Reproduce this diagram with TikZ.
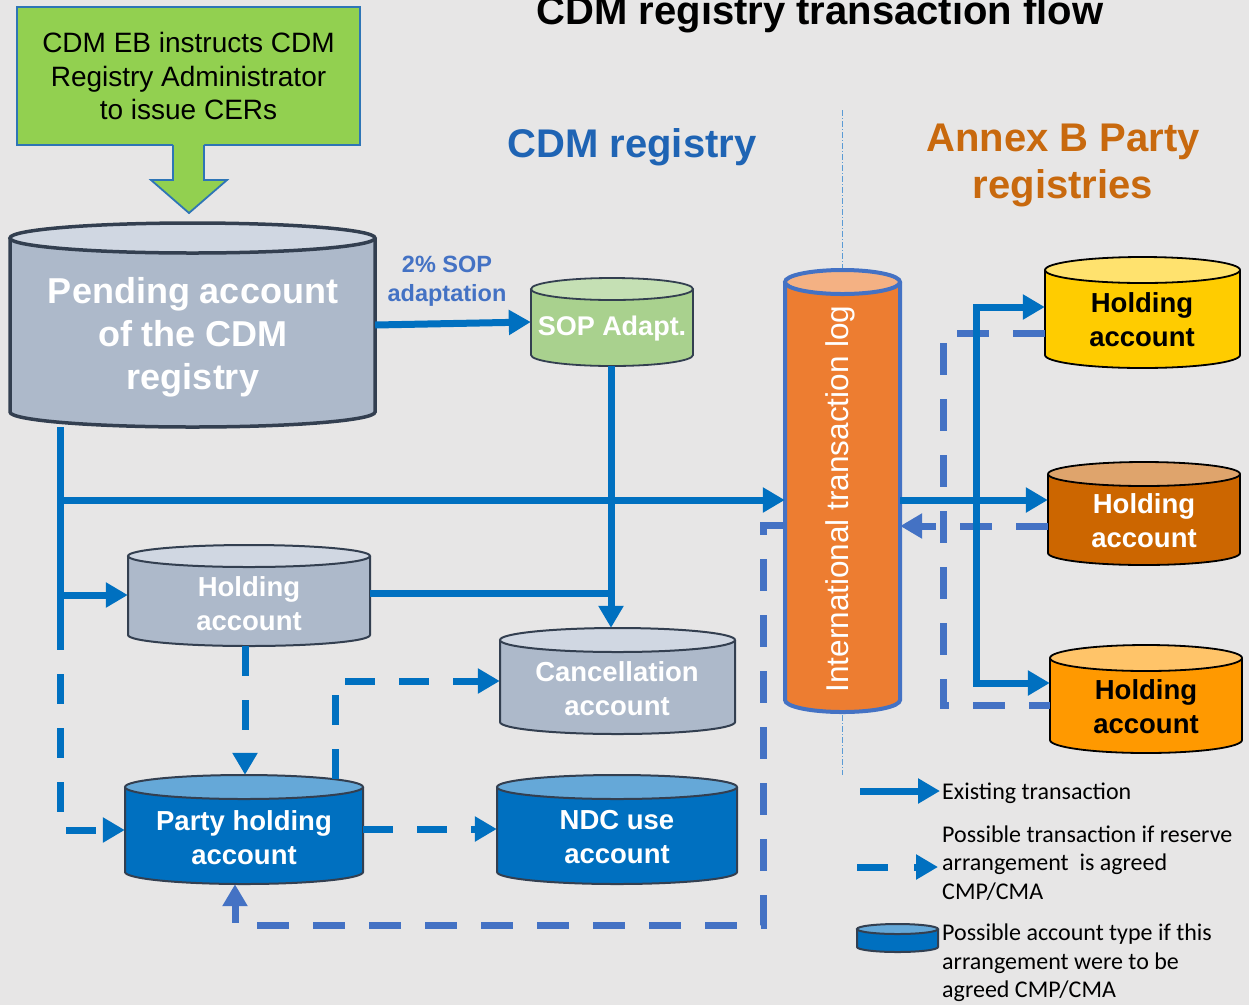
\documentclass[tikz,border=0pt]{standalone}
\usepackage{fontspec}
\setmainfont{Liberation Sans}
\newfontfamily\legfont{Carlito}
\usetikzlibrary{arrows.meta,calc}
\definecolor{bg}{HTML}{E7E6E6}
\definecolor{ebgreen}{HTML}{92D050}
\definecolor{ebborder}{HTML}{2E75B6}
\definecolor{cblue}{HTML}{0070C0}
\definecolor{lblue}{HTML}{4472C4}
\definecolor{greybody}{HTML}{ADB9CA}
\definecolor{greytop}{HTML}{D0D7E2}
\definecolor{darkb}{HTML}{333F50}
\definecolor{sopbody}{HTML}{A9D18E}
\definecolor{soptop}{HTML}{C5E0B4}
\definecolor{partytop}{HTML}{65A8D8}
\definecolor{itlbody}{HTML}{ED7D31}
\definecolor{itltop}{HTML}{F4B183}
\definecolor{yelbody}{HTML}{FFCC00}
\definecolor{yeltop}{HTML}{FFE26E}
\definecolor{brnbody}{HTML}{CC6600}
\definecolor{brntop}{HTML}{DFA46C}
\definecolor{orgbody}{HTML}{FF9900}
\definecolor{orgtop}{HTML}{FFC469}
\definecolor{regblue}{HTML}{1F64B4}
\definecolor{annexor}{HTML}{C8690E}
\definecolor{divblue}{HTML}{5B9BD5}

% name, xl, xr, ytop, ybot, ry, body, top, border options
\newcommand{\mycyl}[9]{%
  \pgfmathsetmacro\cylcx{(#2+#3)/2}%
  \pgfmathsetmacro\cylrx{(#3-#2)/2}%
  \pgfmathsetmacro\cylcy{(#4+#5)/2}%
  \pgfmathsetmacro\cylh{#5-#4+2*#6}%
  \pgfmathsetmacro\cylw{#3-#2}%
  \fill[#7] (#2,#4) -- (#2,#5) arc[start angle=180,end angle=360,x radius=\cylrx pt,y radius=#6pt] -- (#3,#4) -- cycle;
  \draw[#9] (#2,#4) -- (#2,#5) arc[start angle=180,end angle=360,x radius=\cylrx pt,y radius=#6pt] -- (#3,#4);
  \filldraw[fill=#8,#9] (\cylcx,#4) ellipse[x radius=\cylrx pt,y radius=#6pt];
  \node[inner sep=0pt,minimum width=\cylw pt,minimum height=\cylh pt] (#1) at (\cylcx,\cylcy) {};
}

\tikzset{
  conn/.style={draw=cblue,line width=7pt},
  tipA/.style={-{Triangle[length=22pt,width=24pt]}},
  dconn/.style={draw=cblue,line width=7pt,dash pattern=on 30pt off 24pt},
  dconnL/.style={draw=lblue,line width=7pt,dash pattern=on 32pt off 24pt},
  cyltxt/.style={font=\bfseries\fontsize{27.5}{34}\selectfont,text=white,align=center,inner sep=0pt},
  legtxt/.style={font=\legfont\fontsize{24}{28.5}\selectfont,align=left,anchor=west,inner sep=0pt},
  bd/.style={draw=darkb,line width=2pt},
  bk/.style={draw=black,line width=1.8pt},
}

\begin{document}
\begin{tikzpicture}[x=1pt,y=-1pt]
\fill[bg] (0,0) rectangle (1249,1005);
\useasboundingbox (0,0) rectangle (1249,1005);

% titles
\node[font=\bfseries\fontsize{40}{46}\selectfont,anchor=base] (title) at (820,24) {CDM registry transaction flow};
\node[font=\bfseries\fontsize{40}{47}\selectfont,text=regblue,anchor=base] (reg) at (632,157) {CDM registry};
\node[font=\bfseries\fontsize{40}{47}\selectfont,text=annexor,align=center] (annex) at (1063,165) {Annex B Party\\registries};

% divider
\draw[divblue,line width=1pt,dash pattern=on 6pt off 2pt on 1pt off 2pt] (842,110) -- (842,775);

% EB box and block arrow
\node[draw=ebborder,fill=ebgreen,line width=1.8pt,minimum width=343pt,minimum height=138pt,inner sep=0pt,
      align=center,font=\fontsize{28}{33.5}\selectfont] (eb) at (188.5,76) {CDM EB instructs CDM\\Registry Administrator\\to issue CERs};
\fill[ebgreen] (173,143) -- (173,180) -- (151,180) -- (189,213) -- (227,180) -- (204,180) -- (204,143) -- cycle;
\draw[ebborder,line width=1.8pt,line join=miter] (173,145) -- (173,180) -- (151,180) -- (189,213) -- (227,180) -- (204,180) -- (204,145);

% cylinders
\mycyl{pend}{10}{375}{238}{412}{15}{greybody}{greytop}{draw=darkb,line width=3.5pt}
\node[font=\bfseries\fontsize{36}{43}\selectfont,text=white,align=center,inner sep=0pt] (pendt) at (193,337) {Pending account\\of the CDM\\registry};

\mycyl{sop}{531}{693}{289}{355}{11}{sopbody}{soptop}{draw=darkb,line width=1.8pt}
\node[font=\bfseries\fontsize{27}{32}\selectfont,text=white,inner sep=0pt] (sopt) at (612,329) {SOP Adapt.};

\node[font=\bfseries\fontsize{23.5}{29}\selectfont,text=lblue,align=center,inner sep=0pt] (soplab) at (447,281) {2\% SOP\\adaptation};

\mycyl{hold}{128}{370}{556}{635}{11}{greybody}{greytop}{bd}
\node[cyltxt] (holdt) at (249,604) {Holding\\account};

\mycyl{canc}{500}{735}{640}{722}{12}{greybody}{greytop}{bd}
\node[cyltxt] (canct) at (617,689) {Cancellation\\account};

\mycyl{party}{125}{363}{787}{872}{12}{cblue}{partytop}{bd}
\node[cyltxt] (partyt) at (244,838) {Party holding\\account};

\mycyl{ndc}{497}{737}{787}{872}{12}{cblue}{partytop}{bd}
\node[cyltxt] (ndct) at (617,837) {NDC use\\account};

\mycyl{itl}{785}{900}{282}{700}{12}{itlbody}{itltop}{draw=lblue,line width=4pt}
\node[font=\fontsize{31.5}{36}\selectfont,text=white,rotate=90,inner sep=0pt] (itlt) at (840,499) {International transaction log};

\mycyl{ya}{1045}{1240}{270}{355}{13}{yelbody}{yeltop}{bk}
\node[cyltxt,text=black] (yat) at (1142,320) {Holding\\account};

\mycyl{ba}{1048}{1240}{474}{553}{12}{brnbody}{brntop}{bk}
\node[cyltxt] (bat) at (1144,521) {Holding\\account};

\mycyl{oa}{1050}{1242}{658}{740}{13}{orgbody}{orgtop}{bk}
\node[cyltxt,text=black] (oat) at (1146,707) {Holding\\account};

% connectors left
\coordinate (j1) at (60,500);
\coordinate (j2) at (60,595);
\coordinate (j3) at (60,620);
\draw[conn] (pend.south -| j1) -- (j3);
\draw[conn,tipA] (j1) -- (itl.west |- j1);
\draw[conn,tipA] (j2) -- (hold.west |- j2);
\draw[dconn,tipA] (j3) -- (60,830) -- (party.west |- 0,830);

\draw[conn,tipA] (pend.east |- 0,325) -- (sop.west |- 0,322);
\coordinate (sj) at (611,593);
\draw[conn,tipA] (sop.south -| sj) -- (canc.north -| sj);
\draw[conn] (hold.east |- sj) -- (sj);

\draw[dconn,tipA] (hold.south -| 245,0) -- (party.north -| 245,0);
\draw[dconn,tipA] (335,779) -- (335,681) -- (canc.west |- 0,681);
\draw[dconn,tipA] (party.east |- 0,829) -- (ndc.west |- 0,829);
\draw[dconnL,tipA] (itl.west |- 0,525) -- (763,525) -- (763,925) -- (235,925) -- (party.south -| 235,0);

% connectors right
\draw[dconnL] (ya.west |- 0,333) -- (943,333) -- (943,705) -- (oa.west |- 0,705);
\draw[dconnL,tipA] (ba.west |- 0,526) -- (itl.east |- 0,526);
\draw[conn,tipA] (itl.east |- 0,500) -- (ba.west |- 0,500);
\draw[conn,{Triangle[length=22pt,width=24pt]}-{Triangle[length=22pt,width=24pt]}] (ya.west |- 0,307) -- (976,307) -- (976,683) -- (oa.west |- 0,683);

% legend
\coordinate (l1a) at (860,791);
\coordinate (l1b) at (940,791);
\draw[conn,tipA] (l1a) -- (l1b);
\node[legtxt] (leg1) at (942,793) {Existing transaction};
\coordinate (l2a) at (857,867);
\coordinate (l2b) at (938,867);
\draw[dconn,dash pattern=on 31pt off 26pt,tipA] (l2a) -- (l2b);
\node[legtxt] (leg2) at (942,863) {Possible transaction if reserve\\arrangement\ \ is agreed\\CMP/CMA};
\mycyl{legc}{857}{938}{929}{947}{5}{cblue}{partytop}{bd}
\node[legtxt] (leg3) at (942,963) {Possible account type if this\\arrangement were to be\\agreed CMP/CMA};
\end{tikzpicture}
\end{document}
